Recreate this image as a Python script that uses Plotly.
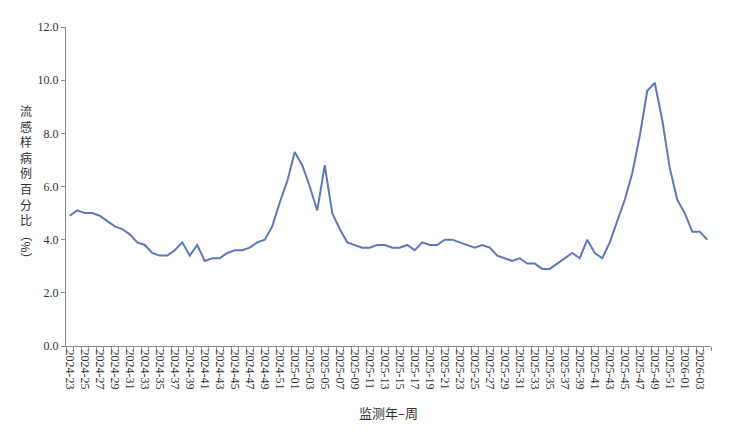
import plotly.graph_objects as go

weeks = (
    [f"2024-{w:02d}" for w in range(23, 53)]
    + [f"2025-{w:02d}" for w in range(1, 53)]
    + [f"2026-{w:02d}" for w in range(1, 5)]
)

ili_pct = [
    4.9, 5.1, 5.0, 5.0, 4.9, 4.7, 4.5, 4.4, 4.2, 3.9,
    3.8, 3.5, 3.4, 3.4, 3.6, 3.9, 3.4, 3.8, 3.2, 3.3,
    3.3, 3.5, 3.6, 3.6, 3.7, 3.9, 4.0, 4.5, 5.4, 6.2,
    7.3, 6.8, 6.0, 5.1, 6.8, 5.0, 4.4, 3.9, 3.8, 3.7,
    3.7, 3.8, 3.8, 3.7, 3.7, 3.8, 3.6, 3.9, 3.8, 3.8,
    4.0, 4.0, 3.9, 3.8, 3.7, 3.8, 3.7, 3.4, 3.3, 3.2,
    3.3, 3.1, 3.1, 2.9, 2.9, 3.1, 3.3, 3.5, 3.3, 4.0,
    3.5, 3.3, 3.9, 4.7, 5.5, 6.5, 7.9, 9.6, 9.9, 8.5,
    6.7, 5.5, 5.0, 4.3, 4.3, 4.0,
]

y_ticks = [0, 2, 4, 6, 8, 10, 12]
y_title_chars = list("流感样病例百分比")
x_title = "监测年–周"

idx = list(range(len(weeks)))
label_idx = idx[::2]
label_text = [weeks[i] for i in label_idx]

fig = go.Figure()
fig.add_trace(go.Scatter(
    x=idx, y=ili_pct, mode="lines",
    line=dict(color="#5B79BC", width=2),
    hoverinfo="skip",
))

serif = "Liberation Serif, serif"
cjk = "Noto Sans CJK SC"

fig.update_layout(
    width=733, height=435,
    margin=dict(l=58, r=30, t=19, b=97),
    paper_bgcolor="white", plot_bgcolor="white",
    showlegend=False,
    font=dict(family=serif, size=11, color="#404040"),
    xaxis=dict(
        range=[-0.5, len(weeks) - 0.5], automargin=False,
        tickmode="array", tickvals=label_idx, ticktext=label_text,
        tickangle=90, ticks="", showgrid=False, zeroline=False,
        showline=True, linecolor="#8c8c8c", linewidth=1,
        tickfont=dict(family=serif, size=12, color="#333333"),
        minor=dict(tick0=-0.5, dtick=1, ticks="outside", ticklen=4,
                   tickcolor="#8c8c8c", showgrid=False),
    ),
    yaxis=dict(
        range=[0, 12], tickmode="array", tickvals=y_ticks, automargin=False,
        ticktext=[f"{v:.1f}" for v in y_ticks],
        ticks="outside", ticklen=4, tickcolor="#8c8c8c",
        showgrid=False, zeroline=False,
        showline=True, linecolor="#8c8c8c", linewidth=1,
        tickfont=dict(family=serif, size=12, color="#333333"),
    ),
)

fig.add_annotation(
    xref="paper", yref="paper", x=-0.062, y=0.5, xanchor="center", yanchor="middle",
    text="<br>".join(y_title_chars), showarrow=False,
    font=dict(family=cjk, size=12, color="#303030"),
    yshift=22,
)
fig.add_annotation(
    xref="paper", yref="paper", x=-0.062, y=0.5, xanchor="center", yanchor="middle",
    text="（%）", textangle=90, showarrow=False,
    font=dict(family=cjk, size=12, color="#303030"),
    yshift=-60,
)
fig.add_annotation(
    xref="paper", yref="paper", x=0.5, y=-0.21, xanchor="center", yanchor="middle",
    text=x_title, showarrow=False,
    font=dict(family=cjk, size=13, color="#303030"),
)

fig.write_html("out.html")
